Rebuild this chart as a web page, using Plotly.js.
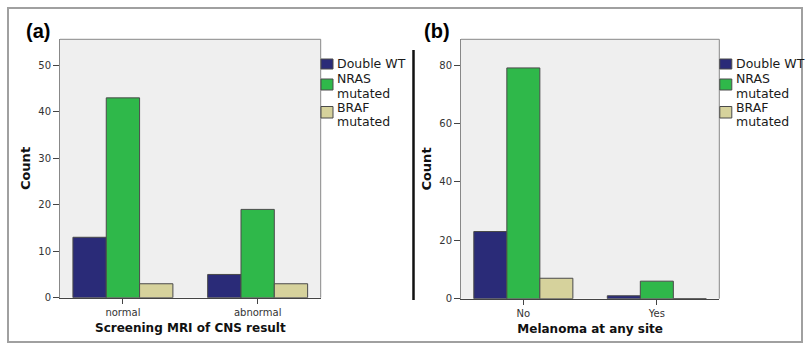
<!DOCTYPE html>
<html>
<head>
<meta charset="utf-8">
<script src="https://cdn.plot.ly/plotly-3.0.1.min.js"></script>
<style>html,body{margin:0;padding:0;background:#fff;}#chart{width:810px;height:346px;}</style>
</head>
<body>
<div id="chart"></div>
<script>
// Panel (a)
const catsA = ["normal", "abnormal"];
const doubleWT_A = [13, 5];
const nras_A = [43, 19];
const braf_A = [3, 3];
// Panel (b)
const catsB = ["No", "Yes"];
const doubleWT_B = [23, 1];
const nras_B = [79, 6];
const braf_B = [7, 0];

const seriesNames = ["Double WT", "NRAS mutated", "BRAF mutated"];
const legendLines = [["Double WT"], ["NRAS", "mutated"], ["BRAF", "mutated"]];
const colors = ["#2a2b78", "#2fb84a", "#d6d29c"];

const W = 810, H = 346;
const fx = p => p / W;
const fy = p => 1 - p / H;

function mk(x, y, i, xa, ya) {
  return {
    type: "bar", x: x, y: y, name: seriesNames[i], xaxis: xa, yaxis: ya,
    marker: {color: colors[i], line: {color: "#4a4a4a", width: 1}},
    hoverinfo: "x+y", showlegend: false
  };
}

const data = [
  mk(catsA, doubleWT_A, 0, "x", "y"),
  mk(catsA, nras_A, 1, "x", "y"),
  mk(catsA, braf_A, 2, "x", "y"),
  mk(catsB, doubleWT_B, 0, "x2", "y2"),
  mk(catsB, nras_B, 1, "x2", "y2"),
  mk(catsB, braf_B, 2, "x2", "y2")
];

const tickFont = {family: "DejaVu Sans", size: 10, color: "#333"};
const titleFont = {family: "DejaVu Sans", size: 12, color: "#111", weight: "bold"};

function xax(domain) {
  return {
    domain: domain, type: "category", range: [-0.467, 1.468],
    showline: true, linecolor: "#444", linewidth: 1, mirror: false,
    ticks: "outside", ticklen: 5, tickcolor: "#444",
    tickfont: tickFont, showgrid: false, zeroline: false, fixedrange: true
  };
}
function yax(domain, range, dtick, anchor) {
  return {
    domain: domain, range: range, dtick: dtick, anchor: anchor,
    showline: true, linecolor: "#888", linewidth: 1,
    ticks: "outside", ticklen: 6, tickcolor: "#444",
    tickfont: tickFont, showgrid: false, zeroline: false, fixedrange: true,
    title: {text: "Count", font: Object.assign({}, titleFont, {size: 13}), standoff: 4}
  };
}

// Manual legends (squares + text) placed next to each plot
const shapes = [
  {type: "rect", xref: "paper", yref: "paper", x0: fx(8), x1: fx(802), y0: fy(342), y1: fy(8),
    line: {color: "#a0a0a0", width: 2}, fillcolor: "rgba(0,0,0,0)", layer: "below"},
  {type: "line", xref: "paper", yref: "paper", x0: fx(413.5), x1: fx(413.5), y0: fy(300), y1: fy(50),
    line: {color: "#111", width: 2.5}},
  {type: "line", xref: "paper", yref: "paper", x0: fx(60), x1: fx(320.7), y0: fy(39.3), y1: fy(39.3), line: {color: "#888", width: 1}},
  {type: "line", xref: "paper", yref: "paper", x0: fx(320.7), x1: fx(320.7), y0: fy(39.3), y1: fy(297.7), line: {color: "#888", width: 1}},
  {type: "line", xref: "paper", yref: "paper", x0: fx(461), x1: fx(719.3), y0: fy(39.3), y1: fy(39.3), line: {color: "#888", width: 1}},
  {type: "line", xref: "paper", yref: "paper", x0: fx(719.3), x1: fx(719.3), y0: fy(39.3), y1: fy(298.7), line: {color: "#888", width: 1}}
];
const annotations = [
  {text: "<b>(a)</b>", xref: "paper", yref: "paper", x: fx(24), y: fy(31), xanchor: "left", yanchor: "middle",
    showarrow: false, font: {family: "Liberation Sans", size: 20, color: "#000"}},
  {text: "<b>(b)</b>", xref: "paper", yref: "paper", x: fx(422), y: fy(31), xanchor: "left", yanchor: "middle",
    showarrow: false, font: {family: "Liberation Sans", size: 20, color: "#000"}}
];
const squareBox = [[59, 69], [79, 90], [106.5, 118]];
const lineCenters = [[63.5], [78.5, 93], [107, 121.5]];
[320.7, 719.5].forEach(function (lx) {
  colors.forEach(function (c, i) {
    shapes.push({type: "rect", xref: "paper", yref: "paper",
      x0: fx(lx + 0.3), x1: fx(lx + 12.3), y0: fy(squareBox[i][1]), y1: fy(squareBox[i][0]),
      fillcolor: c, line: {color: "#4a4a4a", width: 1}});
    legendLines[i].forEach(function (t, j) {
      annotations.push({text: t, xref: "paper", yref: "paper", x: fx(lx + 14), y: fy(lineCenters[i][j]),
        xanchor: "left", yanchor: "middle", showarrow: false,
        font: {family: "DejaVu Sans", size: 12.5, color: "#1a1a1a"}});
    });
  });
});

const layout = {
  width: W, height: H,
  margin: {l: 0, r: 0, t: 0, b: 0},
  paper_bgcolor: "#ffffff",
  plot_bgcolor: "#efefef",
  barmode: "group", bargap: 0.258, bargroupgap: 0,
  showlegend: false,
  font: {family: "DejaVu Sans", color: "#222"},
  xaxis: Object.assign(xax([fx(60), fx(320.7)]), {anchor: "y",
    title: {text: "Screening MRI of CNS result", font: titleFont, standoff: 6}}),
  yaxis: yax([fy(297.7), fy(39.3)], [0, 55.6], 10, "x"),
  xaxis2: Object.assign(xax([fx(461), fx(719.3)]), {anchor: "y2",
    title: {text: "Melanoma at any site", font: titleFont, standoff: 6}}),
  yaxis2: yax([fy(298.7), fy(39.3)], [0, 88.8], 20, "x2"),
  shapes: shapes,
  annotations: annotations
};

Plotly.newPlot("chart", data, layout, {displayModeBar: false, staticPlot: true});
</script>
</body>
</html>
